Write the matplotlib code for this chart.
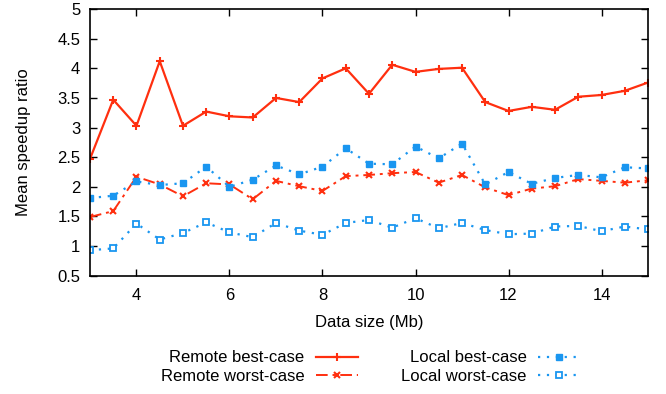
import matplotlib
matplotlib.use("Agg")
import matplotlib.pyplot as plt

plt.rcParams['font.family'] = ['Liberation Sans', 'DejaVu Sans']

# data size (Mb)
sizes = [3, 3.5, 4, 4.5, 5, 5.5, 6, 6.5, 7, 7.5, 8, 8.5, 9, 9.5, 10,
         10.5, 11, 11.5, 12, 12.5, 13, 13.5, 14, 14.5, 15]

remote_best = [2.47, 3.47, 3.03, 4.12, 3.03, 3.27, 3.19, 3.17, 3.50, 3.43, 3.83, 4.00, 3.57,
               4.06, 3.94, 3.99, 4.01, 3.43, 3.28, 3.35, 3.30, 3.52, 3.55, 3.62, 3.76]
remote_worst = [1.49, 1.59, 2.17, 2.04, 1.84, 2.06, 2.04, 1.79, 2.10, 2.01, 1.93, 2.18, 2.20,
                2.23, 2.25, 2.07, 2.20, 1.99, 1.86, 1.97, 2.01, 2.13, 2.10, 2.07, 2.11]
local_best = [1.81, 1.85, 2.09, 2.03, 2.06, 2.34, 2.00, 2.12, 2.36, 2.21, 2.34, 2.65, 2.39,
              2.38, 2.68, 2.48, 2.73, 2.04, 2.25, 2.05, 2.15, 2.20, 2.16, 2.33, 2.31]
local_worst = [0.93, 0.96, 1.38, 1.11, 1.22, 1.40, 1.23, 1.15, 1.39, 1.26, 1.19, 1.39, 1.44,
               1.31, 1.47, 1.30, 1.39, 1.27, 1.20, 1.21, 1.33, 1.34, 1.25, 1.33, 1.28]

red = '#ff2f0f'
blue = '#1a96f0'
fs = 12

fig = plt.figure(figsize=(6.66, 3.94), dpi=100)
ax = fig.add_axes([0.1351, 0.3003, 0.8379, 0.6767])

ax.plot(sizes, remote_best, color=red, lw=1.6, ls='-', marker='+', ms=6, mew=1.5,
        label='Remote best-case')
ax.plot(sizes, remote_worst, color=red, lw=1.4, ls=(0, (6, 2.5, 1.5, 2.5)), marker='x', ms=5, mew=1.5,
        label='Remote worst-case')
ax.plot(sizes, local_best, color=blue, lw=1.6, ls=(0, (1, 3)), marker='s', ms=4.5,
        mfc=blue, mec=blue, label='Local best-case')
ax.plot(sizes, local_worst, color=blue, lw=1.6, ls=(0, (1, 3)), marker='s', ms=5,
        mfc='white', mec=blue, mew=1.3, label='Local worst-case')

ax.set_xlim(3, 15)
ax.set_ylim(0.5, 5)
ax.set_xticks([4, 6, 8, 10, 12, 14])
ax.set_yticks([0.5, 1, 1.5, 2, 2.5, 3, 3.5, 4, 4.5, 5])
ax.set_yticklabels(['0.5', '1', '1.5', '2', '2.5', '3', '3.5', '4', '4.5', '5'])
ax.tick_params(direction='in', top=True, right=True, length=5, width=1, labelsize=fs)
ax.tick_params(axis='x', pad=9)
ax.tick_params(axis='y', pad=7)
for s in ax.spines.values():
    s.set_linewidth(1.2)

ax.set_xlabel('Data size (Mb)', fontsize=fs)
ax.set_ylabel('Mean speedup ratio', fontsize=fs)
ax.xaxis.set_label_coords(0.5, -0.148)
ax.yaxis.set_label_coords(-0.106, 0.5)

fig.legend(loc='center', bbox_to_anchor=(0.556, 0.0685), ncol=2, frameon=False,
           markerfirst=False, fontsize=fs, handlelength=2.5, handletextpad=0.7,
           columnspacing=2.6, labelspacing=0.2)

fig.savefig('out.png', dpi=100)
